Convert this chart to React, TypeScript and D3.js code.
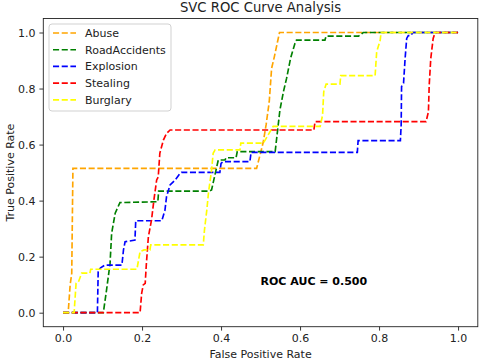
import React, { useEffect, useRef } from 'react';
import * as d3 from 'd3';

// values
const abuseFpr = [0, 0.013, 0.018, 0.022, 0.025, 0.49, 0.5, 0.507, 0.514, 0.522, 0.528, 0.535, 0.543, 0.548, 1];
const abuseTpr = [0, 0, 0.1, 0.14, 0.515, 0.515, 0.57, 0.61, 0.67, 0.753, 0.872, 0.914, 0.967, 1, 1];

const roadFpr = [0, 0.1, 0.102, 0.11, 0.119, 0.123, 0.132, 0.144, 0.24, 0.242, 0.37, 0.376, 0.393, 0.41, 0.413, 0.438, 0.441, 0.537, 0.549, 0.558, 0.566, 0.576, 0.587, 0.591, 0.663, 0.666, 0.748, 0.76, 1];
const roadTpr = [0, 0, 0, 0.08, 0.176, 0.283, 0.355, 0.393, 0.396, 0.434, 0.434, 0.438, 0.545, 0.545, 0.553, 0.553, 0.575, 0.575, 0.723, 0.789, 0.837, 0.908, 0.961, 0.973, 0.973, 0.987, 0.987, 1, 1];

const explosionFpr = [0, 0.087, 0.089, 0.095, 0.106, 0.149, 0.153, 0.157, 0.182, 0.184, 0.25, 0.258, 0.262, 0.271, 0.284, 0.296, 0.3, 0.397, 0.4, 0.405, 0.473, 0.476, 0.745, 0.747, 0.854, 0.856, 0.857, 0.862, 0.866, 0.87, 0.874, 0.881, 0.885, 1];
const explosionTpr = [0, 0, 0.15, 0.16, 0.17, 0.17, 0.224, 0.253, 0.259, 0.328, 0.328, 0.366, 0.414, 0.456, 0.474, 0.497, 0.501, 0.501, 0.533, 0.539, 0.539, 0.572, 0.572, 0.614, 0.614, 0.67, 0.807, 0.819, 0.908, 0.979, 0.989, 0.989, 1, 1];

const stealingFpr = [0, 0.195, 0.199, 0.203, 0.208, 0.211, 0.216, 0.224, 0.23, 0.237, 0.241, 0.245, 0.254, 0.262, 0.271, 0.635, 0.638, 0.919, 0.925, 0.927, 0.931, 0.937, 0.942, 1];
const stealingTpr = [0, 0, 0.069, 0.099, 0.105, 0.176, 0.271, 0.331, 0.402, 0.474, 0.485, 0.569, 0.616, 0.64, 0.652, 0.652, 0.682, 0.682, 0.717, 0.813, 0.908, 0.979, 1, 1];

const burglaryFpr = [0, 0.028, 0.033, 0.039, 0.047, 0.068, 0.07, 0.187, 0.195, 0.205, 0.22, 0.222, 0.355, 0.358, 0.364, 0.368, 0.376, 0.38, 0.385, 0.448, 0.45, 0.507, 0.532, 0.651, 0.657, 0.66, 0.666, 0.701, 0.703, 0.79, 0.794, 0.803, 0.805, 1];
const burglaryTpr = [0, 0, 0.105, 0.11, 0.141, 0.141, 0.155, 0.155, 0.218, 0.224, 0.224, 0.242, 0.242, 0.295, 0.367, 0.426, 0.509, 0.569, 0.581, 0.581, 0.605, 0.605, 0.665, 0.665, 0.705, 0.789, 0.816, 0.816, 0.846, 0.846, 0.931, 0.973, 1, 1];

const seriesNames = ['Abuse', 'RoadAccidents', 'Explosion', 'Stealing', 'Burglary'];
const seriesColors = ['orange', 'green', 'blue', 'red', 'yellow'];
const seriesFpr = [abuseFpr, roadFpr, explosionFpr, stealingFpr, burglaryFpr];
const seriesTpr = [abuseTpr, roadTpr, explosionTpr, stealingTpr, burglaryTpr];

const tickValues = [0, 0.2, 0.4, 0.6, 0.8, 1.0];
const aucLabel = 'ROC AUC = 0.500';

const FONT = '"DejaVu Sans", sans-serif';

const RocChart = () => {
  const chartRef = useRef<SVGSVGElement>(null);

  useEffect(() => {
    const W = 480;
    const H = 362;
    const margin = { top: 18.5, right: 2.2, bottom: 35.3, left: 43.3 };
    const width = W - margin.left - margin.right;
    const height = H - margin.top - margin.bottom;

    const root = d3.select(chartRef.current);
    root.selectAll('*').remove();
    root.attr('width', W).attr('height', H);

    root.append('rect').attr('width', W).attr('height', H).attr('fill', 'white');

    const svg = root.append('g')
      .attr('transform', `translate(${margin.left},${margin.top})`);

    const x = d3.scaleLinear().domain([-0.05, 1.05]).range([0, width]);
    const y = d3.scaleLinear().domain([-0.05, 1.05]).range([height, 0]);

    const line = d3.line<[number, number]>()
      .x(d => x(d[0]))
      .y(d => y(d[1]));

    seriesNames.forEach((name, i) => {
      const pts = seriesFpr[i].map((f, j) => [f, seriesTpr[i][j]] as [number, number]);
      svg.append('path')
        .datum(pts)
        .attr('fill', 'none')
        .attr('stroke', seriesColors[i])
        .attr('stroke-width', 1.65)
        .attr('stroke-dasharray', '6.1,2.6')
        .attr('d', line);
    });

    // frame
    svg.append('rect')
      .attr('width', width)
      .attr('height', height)
      .attr('fill', 'none')
      .attr('stroke', '#222')
      .attr('stroke-width', 0.9);

    const xAxis = svg.append('g')
      .attr('transform', `translate(0,${height})`)
      .call(d3.axisBottom(x).tickValues(tickValues).tickFormat(d3.format('.1f')).tickSize(3.9).tickPadding(3.9));
    const yAxis = svg.append('g')
      .call(d3.axisLeft(y).tickValues(tickValues).tickFormat(d3.format('.1f')).tickSize(3.9).tickPadding(3.9));

    [xAxis, yAxis].forEach(ax => {
      ax.select('.domain').remove();
      ax.selectAll('line').attr('stroke', '#222').attr('stroke-width', 0.9);
      ax.selectAll('text')
        .attr('fill', '#222')
        .style('font-family', FONT)
        .style('font-size', '11px');
    });

    // legend
    const lg = svg.append('g').attr('transform', 'translate(5.7,5.5)');
    lg.append('rect')
      .attr('width', 122)
      .attr('height', 87)
      .attr('rx', 3)
      .attr('fill', 'white')
      .attr('fill-opacity', 0.8)
      .attr('stroke', '#cccccc')
      .attr('stroke-width', 0.9);
    seriesNames.forEach((name, i) => {
      const yy = 9 + i * 16.7;
      lg.append('line')
        .attr('x1', 4).attr('x2', 27)
        .attr('y1', yy).attr('y2', yy)
        .attr('stroke', seriesColors[i])
        .attr('stroke-width', 1.65)
        .attr('stroke-dasharray', '6.1,2.6');
      lg.append('text')
        .attr('x', 36)
        .attr('y', yy)
        .attr('dy', '0.36em')
        .attr('fill', '#222')
        .style('font-family', FONT)
        .style('font-size', '11px')
        .text(name);
    });

    svg.append('text')
      .attr('x', x(0.5))
      .attr('y', y(0.1))
      .attr('fill', 'black')
      .style('font-family', FONT)
      .style('font-size', '11px')
      .style('font-weight', 'bold')
      .text(aucLabel);

    root.append('text')
      .attr('x', margin.left + width / 2)
      .attr('y', 12)
      .attr('text-anchor', 'middle')
      .attr('fill', '#222')
      .style('font-family', FONT)
      .style('font-size', '13.2px')
      .text('SVC ROC Curve Analysis');

    root.append('text')
      .attr('x', margin.left + width / 2)
      .attr('y', 358)
      .attr('text-anchor', 'middle')
      .attr('fill', '#222')
      .style('font-family', FONT)
      .style('font-size', '11px')
      .text('False Positive Rate');

    root.append('text')
      .attr('transform', `translate(14,${margin.top + height / 2}) rotate(-90)`)
      .attr('text-anchor', 'middle')
      .attr('fill', '#222')
      .style('font-family', FONT)
      .style('font-size', '11px')
      .text('True Positive Rate');
  }, []);

  return (
    <svg ref={chartRef} style={{ position: 'absolute', left: 0, top: 0 }}></svg>
  );
};

export default function App() {
  return <RocChart />;
}
